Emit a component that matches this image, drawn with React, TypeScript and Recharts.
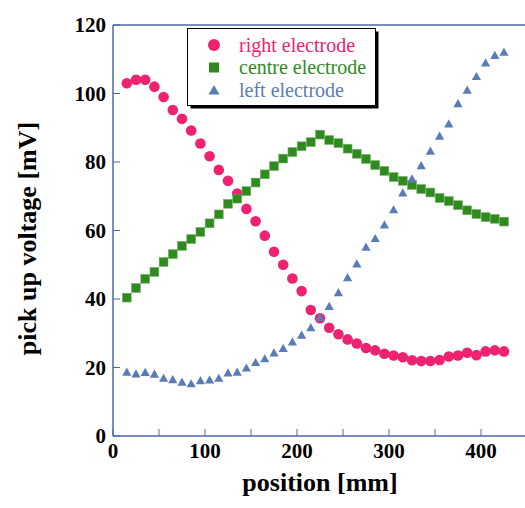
import { ScatterChart, Scatter, XAxis, YAxis, Legend } from "recharts";

const positions = [
  15, 25, 35, 45, 55, 65, 75, 85, 95, 105, 115, 125, 135, 145, 155, 165, 175, 185, 195, 205, 215,
  225, 235, 245, 255, 265, 275, 285, 295, 305, 315, 325, 335, 345, 355, 365, 375, 385, 395, 405, 415, 425,
];
const rightElectrode = [
  103, 104, 104, 102, 99, 95.2, 92.6, 89.2, 85.4, 81.7, 77.7, 74.5, 70.8, 66.3, 62.7, 58.5, 53.8, 50, 46, 42.3, 36.8,
  34.4, 31.6, 29.7, 28.2, 27, 25.7, 25, 24, 23.5, 23, 22.1, 21.9, 21.9, 22.2, 23.2, 23.5, 24.3, 23.6, 24.7, 25, 24.7,
];
const centreElectrode = [
  40.4, 43.2, 45.9, 47.9, 50.8, 53.1, 55.5, 57.5, 59.6, 62.1, 64.7, 67.8, 69.3, 71.5, 74, 76.4, 78.8, 81, 82.9, 84.6, 85.8,
  88, 86.4, 85.5, 83.9, 82.4, 80.9, 79.1, 77.4, 75.6, 74.5, 73.3, 72.1, 71.1, 69.5, 68.6, 67.4, 65.9, 64.8, 63.9, 63.4, 62.6,
];
const leftElectrode = [
  18.6, 18.1, 18.5, 18.0, 16.8, 16.4, 15.7, 15.2, 16.1, 16.3, 16.8, 18.4, 18.6, 19.8, 21.4, 22.5, 24.2, 25.5, 27.4, 29.4, 31.6,
  34.6, 37.8, 41.8, 46.2, 50.2, 55.1, 57.6, 61.6, 66, 70.9, 75, 78.9, 83.1, 87.5, 91.1, 97, 100.9, 104.9, 108.9, 111.1, 112,
];
const seriesNames = ["right electrode", "centre electrode", "left electrode"];
const xTicks = [0, 50, 100, 150, 200, 250, 300, 350, 400, 450];
const yTicks = [0, 20, 40, 60, 80, 100, 120];

const PINK = "#ee2270";
const GREEN = "#2f8a1f";
const BLUE = "#5a7cb6";
const AXIS = "#4a68aa";
const SERIF = "Liberation Serif, Times New Roman, serif";
const LEGEND_FONT = "Liberation Serif, DejaVu Serif";

const toPoints = (ys: number[]) => positions.map((x, i) => ({ x, y: ys[i] }));

const circleShape = (p: any) => <circle cx={p.cx} cy={p.cy} r={5.3} fill={PINK} />;
const squareShape = (p: any) => (
  <rect x={p.cx - 4.4} y={p.cy - 4.4} width={8.8} height={8.8} fill={GREEN} stroke="#6fae5f" strokeWidth={0.6} />
);
const triangleShape = (p: any) => (
  <polygon
    points={`${p.cx},${p.cy - 4.8} ${p.cx + 4.6},${p.cy + 3.4} ${p.cx - 4.6},${p.cy + 3.4}`}
    fill={BLUE}
  />
);

function marker(type: string, color: string, cx: number, cy: number) {
  if (type === "circle") return <circle cx={cx} cy={cy} r={6} fill={color} />;
  if (type === "square") return <rect x={cx - 5} y={cy - 5} width={10} height={10} fill={color} />;
  return <polygon points={`${cx},${cy - 5} ${cx + 5.5},${cy + 4.5} ${cx - 5.5},${cy + 4.5}`} fill={color} />;
}

function LegendBox({ payload }: any) {
  const items = [...(payload || [])].sort(
    (a: any, b: any) => seriesNames.indexOf(a.value) - seriesNames.indexOf(b.value)
  );
  return (
    <svg width={194} height={84} style={{ display: "block" }}>
      <rect x={3.5} y={3.5} width={188} height={77} fill="#000" />
      <rect x={0.5} y={0.5} width={188} height={77} fill="#fff" stroke="#000" strokeWidth={1} />
      {items.map((entry: any, i: number) => {
        const cy = 17 + i * 22.5;
        return (
          <g key={entry.value}>
            {marker(entry.type, entry.color, 27, cy)}
            <text
              x={52}
              y={cy}
              dy="0.33em"
              style={{ fontFamily: LEGEND_FONT, fontSize: 20, fontWeight: 400 }}
              fill={entry.color}
            >
              {entry.value}
            </text>
          </g>
        );
      })}
    </svg>
  );
}

const yTitle = ({ viewBox }: any) => {
  const cy = viewBox.y + viewBox.height / 2 + 8;
  return (
    <text
      x={27}
      y={cy}
      transform={`rotate(-90, 27, ${cy})`}
      textAnchor="middle"
      dominantBaseline="central"
      fontFamily={SERIF}
      fontWeight="bold"
      fontSize={26}
      fill="#000"
    >
      pick up voltage [mV]
    </text>
  );
};

export default function App() {
  const tickFont = { fontFamily: SERIF, fontWeight: "bold", fontSize: 21, fill: "#000" };
  return (
    <div style={{ position: "absolute", left: 0, top: 0, width: 525, height: 508, overflow: "hidden", background: "#fff" }}>
      <ScatterChart width={530} height={508} margin={{ top: 24, right: 2, bottom: 0, left: 0 }}>
        <XAxis
          xAxisId="b"
          type="number"
          dataKey="x"
          domain={[0, 450]}
          ticks={xTicks}
          interval={0}
          height={72}
          tickSize={-7}
          tickMargin={14}
          tickFormatter={(v: number) => (v % 100 === 0 ? String(v) : "")}
          tick={tickFont}
          axisLine={{ stroke: AXIS, strokeWidth: 1.5 }}
          tickLine={{ stroke: AXIS }}
          allowDataOverflow
          label={{
            value: "position [mm]",
            position: "insideBottom",
            offset: 17,
            style: { fontFamily: SERIF, fontWeight: "bold", fontSize: 26, fill: "#000" },
          }}
        />
        <XAxis
          xAxisId="t"
          orientation="top"
          type="number"
          domain={[0, 450]}
          ticks={xTicks}
          interval={0}
          height={1}
          tickSize={-7}
          tick={false}
          axisLine={{ stroke: AXIS, strokeWidth: 1.5 }}
          tickLine={{ stroke: AXIS }}
          allowDataOverflow
        />
        <YAxis
          yAxisId="l"
          type="number"
          dataKey="y"
          domain={[0, 120]}
          ticks={yTicks}
          interval={0}
          width={113}
          tickSize={-7}
          tickMargin={14}
          tick={tickFont}
          axisLine={{ stroke: AXIS, strokeWidth: 1.5 }}
          tickLine={{ stroke: AXIS }}
          allowDataOverflow
          label={{ content: yTitle }}
        />
        <YAxis
          yAxisId="r"
          orientation="right"
          type="number"
          domain={[0, 120]}
          ticks={yTicks}
          interval={0}
          width={1}
          tickSize={-7}
          tick={false}
          axisLine={{ stroke: AXIS, strokeWidth: 1.5 }}
          tickLine={{ stroke: AXIS }}
          allowDataOverflow
        />
        <Legend
          layout="vertical"
          align="center"
          verticalAlign="middle"
          content={LegendBox}
          wrapperStyle={{ position: "absolute", left: 187, top: 28, width: 194, height: 84 }}
        />
        <Scatter
          name={seriesNames[0]}
          data={toPoints(rightElectrode)}
          xAxisId="b"
          yAxisId="l"
          fill={PINK}
          legendType="circle"
          shape={circleShape}
          isAnimationActive={false}
        />
        <Scatter
          name={seriesNames[1]}
          data={toPoints(centreElectrode)}
          xAxisId="b"
          yAxisId="l"
          fill={GREEN}
          legendType="square"
          shape={squareShape}
          isAnimationActive={false}
        />
        <Scatter
          name={seriesNames[2]}
          data={toPoints(leftElectrode)}
          xAxisId="b"
          yAxisId="l"
          fill={BLUE}
          legendType="triangle"
          shape={triangleShape}
          isAnimationActive={false}
        />
      </ScatterChart>
    </div>
  );
}
